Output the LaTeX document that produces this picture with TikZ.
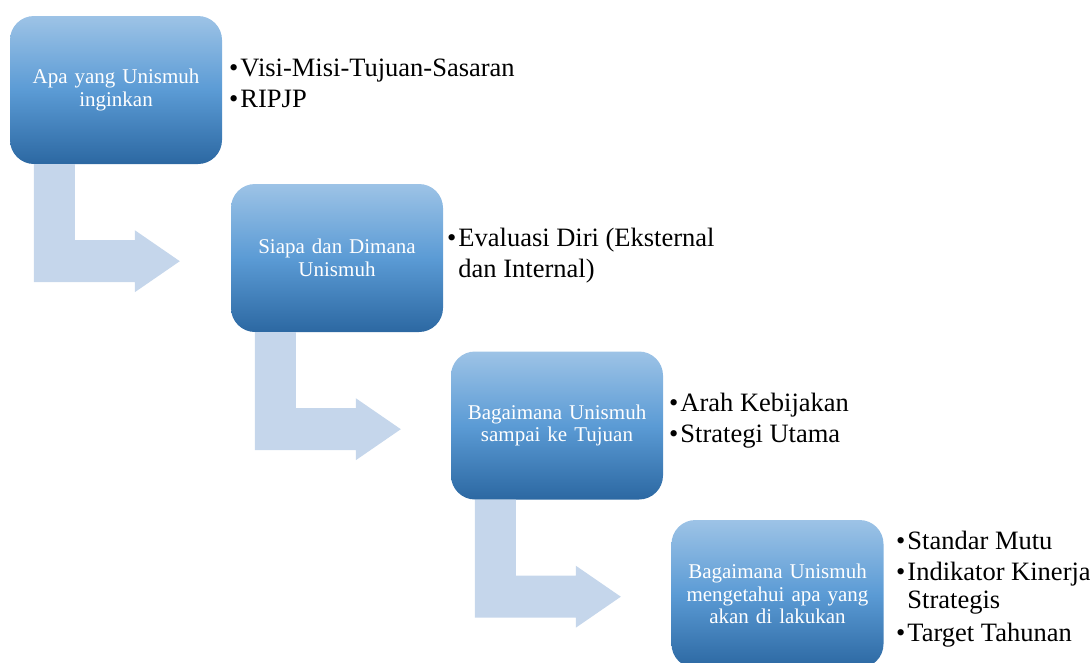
\documentclass[tikz,border=0pt]{standalone}
\usepackage{fontspec}
\setmainfont{Liberation Serif}
\usetikzlibrary{calc}
\definecolor{gtop}{RGB}{157,195,230}
\definecolor{gmid}{RGB}{91,155,213}
\definecolor{gbot}{RGB}{44,104,162}
\definecolor{arr}{RGB}{197,214,235}
\begin{document}
\begin{tikzpicture}[x=1pt,y=-1pt,
  box/.style={rounded corners=24pt, top color=gtop, bottom color=gbot, middle color=gmid,
    minimum width=212pt, minimum height=148pt, inner sep=0pt, text width=206pt, align=center,
    text=white, font=\fontsize{21}{22.5}\selectfont},
  blist/.style={anchor=base west, inner sep=0pt, font=\fontsize{26.5}{31}\selectfont},
  bent/.style={fill=arr, draw=none}]
\useasboundingbox (0,0) rectangle (1090,662);
% boxes
\node[box] (b1) at (116,90) {Apa yang Unismuh\\inginkan};
\node[box] (b2) at (337,258) {Siapa dan Dimana\\Unismuh};
\node[box] (b3) at (557,425.5) {Bagaimana Unismuh\\sampai ke Tujuan};
\node[box] (b4) at (777.5,594) {Bagaimana Unismuh\\mengetahui apa yang\\akan di lakukan};
% bent arrows
\foreach \s in {b1,b2,b3}{
  \begin{scope}[shift={(\s.south west)}]
    \path[bent] (24,0) -- (65,0) -- (65,76) -- (125,76) -- (125,66) -- (170,97)
      -- (125,128) -- (125,118) -- (24,118) -- cycle;
  \end{scope}
}
% lists
\node[blist] (l1) at (229,76) {\begin{tabular}[t]{@{}l@{\hspace{2pt}}l@{}}
  \textbullet & Visi-Misi-Tujuan-Sasaran\\
  \textbullet & RIPJP
\end{tabular}};
\node[blist] (l2) at (447,246) {\begin{tabular}[t]{@{}l@{\hspace{2pt}}l@{}}
  \textbullet & Evaluasi Diri (Eksternal\\
   & dan Internal)
\end{tabular}};
\node[blist] (l3) at (669,411) {\begin{tabular}[t]{@{}l@{\hspace{2pt}}l@{}}
  \textbullet & Arah Kebijakan\\
  \textbullet & Strategi Utama
\end{tabular}};
\node[blist] (l4) at (896,549) {\begin{tabular}[t]{@{}l@{\hspace{2pt}}l@{}}
  \textbullet & Standar Mutu\\
  \textbullet & Indikator Kinerja\\[-3pt]
   & Strategis\\[2pt]
  \textbullet & Target Tahunan
\end{tabular}};
\end{tikzpicture}
\end{document}
